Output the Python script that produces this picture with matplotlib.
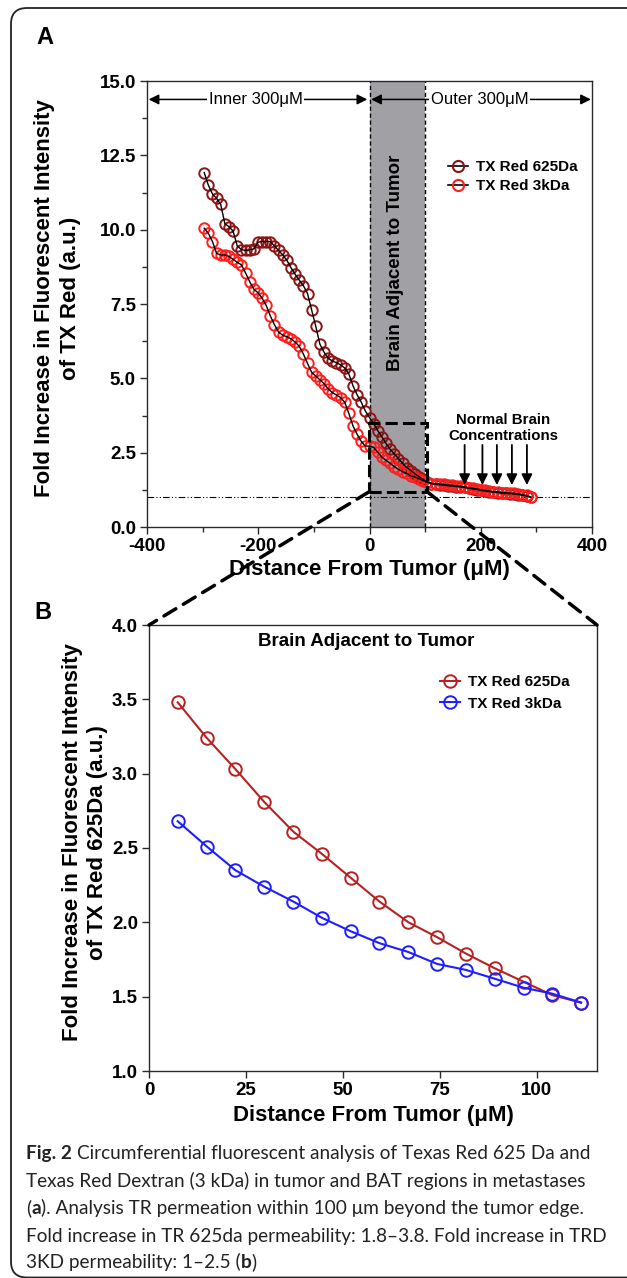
import matplotlib
matplotlib.use('Agg')
import matplotlib.pyplot as plt
from matplotlib.patches import Rectangle, FancyBboxPatch, ConnectionPatch
from matplotlib.lines import Line2D
import matplotlib.ticker as mticker

plt.rcParams['font.family'] = ['Liberation Sans', 'DejaVu Sans']

# ---------------- Data ----------------
series_labels = ['TX Red 625Da', 'TX Red 3kDa']

# Panel A: distance from tumor edge (µM)
a_distance = [-297.2, -289.8, -282.3, -274.9, -267.5, -260.0, -252.6, -245.2, -237.7, -230.3,
              -222.9, -215.4, -208.0, -200.6, -193.1, -185.7, -178.3, -170.8, -163.4, -156.0,
              -148.6, -141.1, -133.7, -126.3, -118.9, -111.4, -104.0, -96.6, -89.2, -81.7,
              -74.3, -66.9, -59.4, -52.0, -44.6, -37.2, -29.7, -22.3, -14.9, -7.4,
              0.0, 7.4, 14.9, 22.3, 29.7, 37.2, 44.6, 52.0, 59.4, 66.9,
              74.3, 81.7, 89.2, 96.6, 104.0, 111.4, 118.9, 126.3, 133.7, 141.1,
              148.6, 156.0, 163.4, 170.8, 178.3, 185.7, 193.1, 200.6, 208.0, 215.4,
              222.9, 230.3, 237.7, 245.2, 252.6, 260.0, 267.5, 274.9, 282.3, 289.8]
a_tx625 = [11.92, 11.50, 11.20, 11.05, 10.85, 10.20, 10.10, 9.95, 9.45, 9.33,
           9.30, 9.32, 9.35, 9.58, 9.60, 9.60, 9.60, 9.45, 9.30, 9.15,
           8.97, 8.72, 8.50, 8.30, 8.12, 7.85, 7.30, 6.75, 6.15, 5.88,
           5.68, 5.58, 5.53, 5.45, 5.35, 5.15, 4.75, 4.45, 4.20, 3.90,
           3.68, 3.48, 3.24, 3.03, 2.81, 2.61, 2.46, 2.30, 2.14, 2.00,
           1.90, 1.79, 1.69, 1.60, 1.51, 1.46, 1.44, 1.42, 1.41, 1.39,
           1.38, 1.36, 1.35, 1.33, 1.30, 1.28, 1.26, 1.23, 1.21, 1.19,
           1.17, 1.16, 1.14, 1.13, 1.12, 1.11, 1.09, 1.07, 1.04, 1.00]
a_tx3k = [10.05, 9.88, 9.60, 9.20, 9.15, 9.15, 9.10, 9.00, 8.90, 8.82,
          8.55, 8.25, 8.00, 7.88, 7.70, 7.45, 7.10, 6.80, 6.55, 6.45,
          6.40, 6.33, 6.22, 6.08, 5.82, 5.50, 5.20, 5.08, 4.95, 4.82,
          4.65, 4.52, 4.44, 4.35, 4.20, 3.82, 3.40, 3.12, 2.88, 2.72,
          2.72, 2.68, 2.51, 2.35, 2.24, 2.14, 2.03, 1.94, 1.86, 1.80,
          1.72, 1.68, 1.62, 1.56, 1.52, 1.46, 1.45, 1.44, 1.43, 1.41,
          1.40, 1.38, 1.37, 1.35, 1.32, 1.30, 1.28, 1.25, 1.23, 1.21,
          1.19, 1.18, 1.16, 1.15, 1.14, 1.13, 1.11, 1.09, 1.06, 1.01]

# Panel B: brain adjacent to tumor
b_distance = [7.4, 14.9, 22.3, 29.7, 37.2, 44.6, 52.0, 59.4, 66.9, 74.3, 81.7, 89.2, 96.6, 104.0, 111.4]
b_tx625 = [3.48, 3.24, 3.03, 2.81, 2.61, 2.46, 2.30, 2.14, 2.00, 1.90, 1.79, 1.69, 1.60, 1.51, 1.46]
b_tx3k = [2.68, 2.51, 2.35, 2.24, 2.14, 2.03, 1.94, 1.86, 1.80, 1.72, 1.68, 1.62, 1.56, 1.52, 1.46]

a_xticks = [-400, -200, 0, 200, 400]
a_yticks = [0.0, 2.5, 5.0, 7.5, 10.0, 12.5, 15.0]
b_xticks = [0, 25, 50, 75, 100]
b_yticks = [1.0, 1.5, 2.0, 2.5, 3.0, 3.5, 4.0]
normal_arrow_x = [171, 203, 229, 256, 283]

# ---------------- Styles ----------------
c625_a = '#8c1414'
c3k_a = '#ff1e1e'
c625_b = '#b42222'
c3k_b = '#1e1eff'
band_color = '#a0a0a5'
spine_col = '#2a2a2a'
TICK_FS = 13.5
LABEL_FS = 16

W, H = 627, 1278
fig = plt.figure(figsize=(W / 100, H / 100), dpi=100)


def px_axes(x0, y0, x1, y1):
    return fig.add_axes([x0 / W, 1 - y1 / H, (x1 - x0) / W, (y1 - y0) / H])


def style_axes(ax):
    for s in ax.spines.values():
        s.set_linewidth(1.0)
        s.set_color(spine_col)
    ax.tick_params(which='both', direction='out', width=1.0, color=spine_col,
                   labelsize=TICK_FS, top=False, right=False)
    ax.tick_params(which='major', length=5, pad=3)
    ax.tick_params(which='minor', length=3.5)
    for lab in ax.get_xticklabels() + ax.get_yticklabels():
        lab.set_fontweight('bold')


# ---------------- Panel A ----------------
axA = px_axes(147, 81, 592, 527)
axA.set_xlim(-400, 400)
axA.set_ylim(0, 15)
axA.set_xticks(a_xticks)
axA.set_yticks(a_yticks)
axA.xaxis.set_minor_locator(mticker.MultipleLocator(100))
axA.yaxis.set_minor_locator(mticker.MultipleLocator(1.25))
axA.xaxis.set_major_formatter(mticker.FormatStrFormatter('%d'))
axA.yaxis.set_major_formatter(mticker.FormatStrFormatter('%.1f'))
style_axes(axA)

axA.axvspan(0, 100, color=band_color, zorder=0, lw=0)
for xv in (0, 100):
    axA.axvline(xv, color='black', lw=1.0, ls=(0, (3, 2)), zorder=1)
axA.axhline(1.0, color='black', lw=0.8, ls=(0, (6, 2, 1, 2, 1, 2)), zorder=1)

axA.plot(a_distance, a_tx625, ls='none', marker='o', mfc='none', mec=c625_a, ms=7.5, mew=1.4, zorder=3)
axA.plot(a_distance, a_tx3k, ls='none', marker='o', mfc='none', mec=c3k_a, ms=7.5, mew=1.4, zorder=3)
axA.plot(a_distance, a_tx625, color='black', lw=1.0, zorder=4)
axA.plot(a_distance, a_tx3k, color='black', lw=1.0, zorder=4)

hA = [Line2D([], [], color='black', lw=1.2, marker='o', mfc='none', mec=c625_a, ms=8, mew=1.5),
      Line2D([], [], color='black', lw=1.2, marker='o', mfc='none', mec=c3k_a, ms=8, mew=1.5)]
legA = axA.legend(hA, series_labels, loc='upper left', bbox_to_anchor=(0.676, 0.822),
                  frameon=False, borderpad=0, borderaxespad=0, handlelength=1.3,
                  handletextpad=0.55, labelspacing=0.3, prop={'weight': 'bold', 'size': 11})

axA.text(46, 8.88, 'Brain Adjacent to Tumor', rotation=90, ha='center', va='center',
         fontsize=13.5, fontweight='bold', zorder=5)

# top range arrows
arrow_kw = dict(arrowstyle='<|-|>', color='black', lw=1.1, mutation_scale=15, shrinkA=0, shrinkB=0)
axA.annotate('', xy=(-4, 14.38), xytext=(-397, 14.38), arrowprops=arrow_kw, zorder=5)
axA.annotate('', xy=(398, 14.38), xytext=(3, 14.38), arrowprops=arrow_kw, zorder=5)
axA.text(-205, 14.38, 'Inner 300μM', ha='center', va='center', fontsize=12,
         bbox=dict(facecolor='white', edgecolor='none', pad=1.0), zorder=6)
axA.text(198, 14.38, 'Outer 300μM', ha='center', va='center', fontsize=12,
         bbox=dict(facecolor='white', edgecolor='none', pad=1.0), zorder=6)

# Normal brain annotations
axA.text(240, 3.33, 'Normal Brain\nConcentrations', ha='center', va='center', fontsize=10.8,
         fontweight='bold', linespacing=1.1, zorder=5)
for xv in normal_arrow_x:
    axA.annotate('', xy=(xv, 1.41), xytext=(xv, 2.76),
                 arrowprops=dict(arrowstyle='-|>', color='black', lw=1.3, mutation_scale=16,
                                 shrinkA=0, shrinkB=0), zorder=5)

# dashed zoom rectangle
rect = Rectangle((-1, 1.18), 105, 2.31, fill=False, ec='black', lw=2.2, ls=(0, (4, 1.7)),
                 zorder=6, clip_on=False)
axA.add_patch(rect)

axA.set_ylabel('Fold Increase in Fluorescent Intensity\nof TX Red (a.u.)', fontsize=LABEL_FS,
               fontweight='bold', linespacing=1.35)
axA.yaxis.set_label_coords(-0.201, 0.513)
axA.yaxis.label.set_verticalalignment('center')
axA.set_xlabel('Distance From Tumor (μM)', fontsize=LABEL_FS, fontweight='bold')
axA.xaxis.set_label_coords(0.499, -0.0964)
axA.xaxis.label.set_verticalalignment('center')

# ---------------- Panel B ----------------
axB = px_axes(149, 625, 597, 1071)
axB.set_xlim(0, 115.5)
axB.set_ylim(1.0, 4.0)
axB.set_xticks(b_xticks)
axB.set_yticks(b_yticks)
axB.xaxis.set_major_formatter(mticker.FormatStrFormatter('%d'))
axB.yaxis.set_major_formatter(mticker.FormatStrFormatter('%.1f'))
style_axes(axB)

axB.plot(b_distance, b_tx625, color=c625_b, lw=1.5, marker='o', mfc='none', mec=c625_b, ms=9, mew=1.4,
         label=series_labels[0])
axB.plot(b_distance, b_tx3k, color=c3k_b, lw=1.5, marker='o', mfc='none', mec=c3k_b, ms=9, mew=1.4,
         label=series_labels[1])
axB.legend(loc='upper left', bbox_to_anchor=(0.65, 0.888), frameon=False, borderpad=0,
           borderaxespad=0, handlelength=1.3, handletextpad=0.55, labelspacing=0.5,
           prop={'weight': 'bold', 'size': 11})
axB.text(0.484, 0.9626, 'Brain Adjacent to Tumor', transform=axB.transAxes, ha='center', va='center',
         fontsize=13.5, fontweight='bold')

axB.set_ylabel('Fold Increase in Fluorescent Intensity\nof TX Red 625Da (a.u.)', fontsize=LABEL_FS,
               fontweight='bold', linespacing=1.2)
axB.yaxis.set_label_coords(-0.143, 0.513)
axB.yaxis.label.set_verticalalignment('center')
axB.set_xlabel('Distance From Tumor (μM)', fontsize=LABEL_FS, fontweight='bold')
axB.xaxis.set_label_coords(0.5, -0.0987)
axB.xaxis.label.set_verticalalignment('center')

# connector lines
for xa, xb in (((-1, 1.18), (0, 1)), ((104, 1.18), (1, 1))):
    con = ConnectionPatch(xyA=xa, coordsA=axA.transData, xyB=xb, coordsB=axB.transAxes,
                          color='black', lw=2.5, ls=(0, (4, 2.5)), zorder=7)
    fig.add_artist(con)

# panel letters
fig.text(45 / W, 1 - 37 / H, 'A', fontsize=17, fontweight='bold', ha='center', va='center')
fig.text(43 / W, 1 - 613 / H, 'B', fontsize=17, fontweight='bold', ha='center', va='center')

# rounded frame
frame = FancyBboxPatch((0.11, 0.005), 6.5, 12.695, boxstyle='round,pad=0,rounding_size=0.16',
                       transform=fig.dpi_scale_trans, fill=False, ec='#222222', lw=1.3)
fig.add_artist(frame)

# caption
cap_font = ['Lato', 'DejaVu Sans']
cap_fs = 13.7
cap_col = '#222222'
cap_lines = [
    [('Fig. 2', 'bold'), ('GAP', None), ('Circumferential fluorescent analysis of Texas Red 625 Da and', 'normal')],
    [('Texas Red Dextran (3 kDa) in tumor and BAT regions in metastases', 'normal')],
    [('(', 'normal'), ('a', 'bold'), ('). Analysis TR permeation within 100 μm beyond the tumor edge.', 'normal')],
    [('Fold increase in TR 625da permeability: 1.8–3.8. Fold increase in TRD', 'normal')],
    [('3KD permeability: 1–2.5 (', 'normal'), ('b', 'bold'), (')', 'normal')],
]
cap_baselines = [1159, 1187, 1214, 1242, 1268]
renderer = fig.canvas.get_renderer()
for segs, yb in zip(cap_lines, cap_baselines):
    xpix = 26
    for txt, wt in segs:
        if txt == 'GAP':
            xpix += 5
            continue
        t = fig.text(xpix / W, 1 - yb / H, txt, fontsize=cap_fs, fontweight=wt, family=cap_font,
                     color=cap_col, ha='left', va='baseline')
        bb = t.get_window_extent(renderer=renderer)
        xpix = bb.x1

fig.savefig('out.png', dpi=100)
